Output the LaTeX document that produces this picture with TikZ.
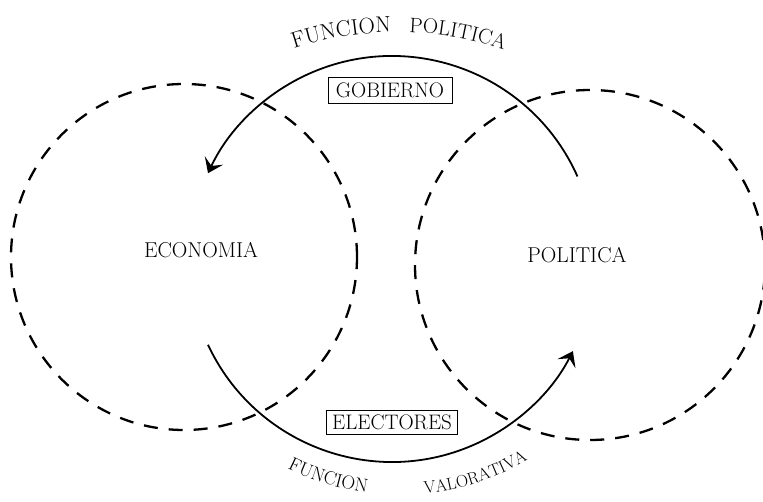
\documentclass[tikz,border=0pt]{standalone}
\usepackage{fontspec}
\usetikzlibrary{arrows.meta,decorations.text}
\begin{document}
\begin{tikzpicture}[x=1pt,y=1pt,
  dashcircle/.style={line width=2.3pt, dash pattern=on 14pt off 11pt},
  flow/.style={line width=1.8pt, -{Stealth[length=14pt,width=20pt,inset=6pt]}},
  lbl/.style={font=\fontsize{21.5}{24}\selectfont},
  boxed/.style={draw, line width=0.9pt, inner sep=0pt, font=\fontsize{21}{24}\selectfont}]
\useasboundingbox (0,0) rectangle (763,501);
\coordinate (L) at (184,244);
\coordinate (R) at (590,236);
\coordinate (C) at (392,242);
\coordinate (T) at (397,142);
\coordinate (B) at (400,256);
\draw[dashcircle] (L) circle[radius=173];
\draw[dashcircle] (R) circle[radius=175];
\draw[flow] (C) ++(24:203) arc[start angle=24, end angle=155, radius=203];
\draw[flow] (C) ++(205:203) arc[start angle=205, end angle=333, radius=203];
\node[lbl] (eco) at (201,251) {ECONOMIA};
\node[lbl] (pol) at (577,246) {POLITICA};
\node[boxed, minimum width=124pt, minimum height=26pt] (gob) at (390,411) {GOBIERNO};
\node[boxed, minimum width=131pt, minimum height=24pt] (ele) at (392,79) {ELECTORES};
\path[decorate, decoration={text along path, text align=center,
  text={|\fontsize{22.5}{24}\selectfont|FUNCION}}]
  (T) ++(114.7:327) arc[start angle=114.7, end angle=84.7, radius=327];
\path[decorate, decoration={text along path, text align=center,
  text={|\fontsize{21}{24}\selectfont|POLITICA}}]
  (T) ++(94.4:327) arc[start angle=94.4, end angle=64.4, radius=327];
\path[decorate, decoration={text along path, text align=center,
  text={|\fontsize{19}{20}\selectfont|FUNCION}}]
  (B) ++(232.8:250) arc[start angle=232.8, end angle=272.8, radius=250];
\path[decorate, decoration={text along path, text align=center,
  text={|\fontsize{17}{20}\selectfont|VALORATIVA}}]
  (B) ++(268.2:250) arc[start angle=268.2, end angle=308.2, radius=250];
\end{tikzpicture}
\end{document}
